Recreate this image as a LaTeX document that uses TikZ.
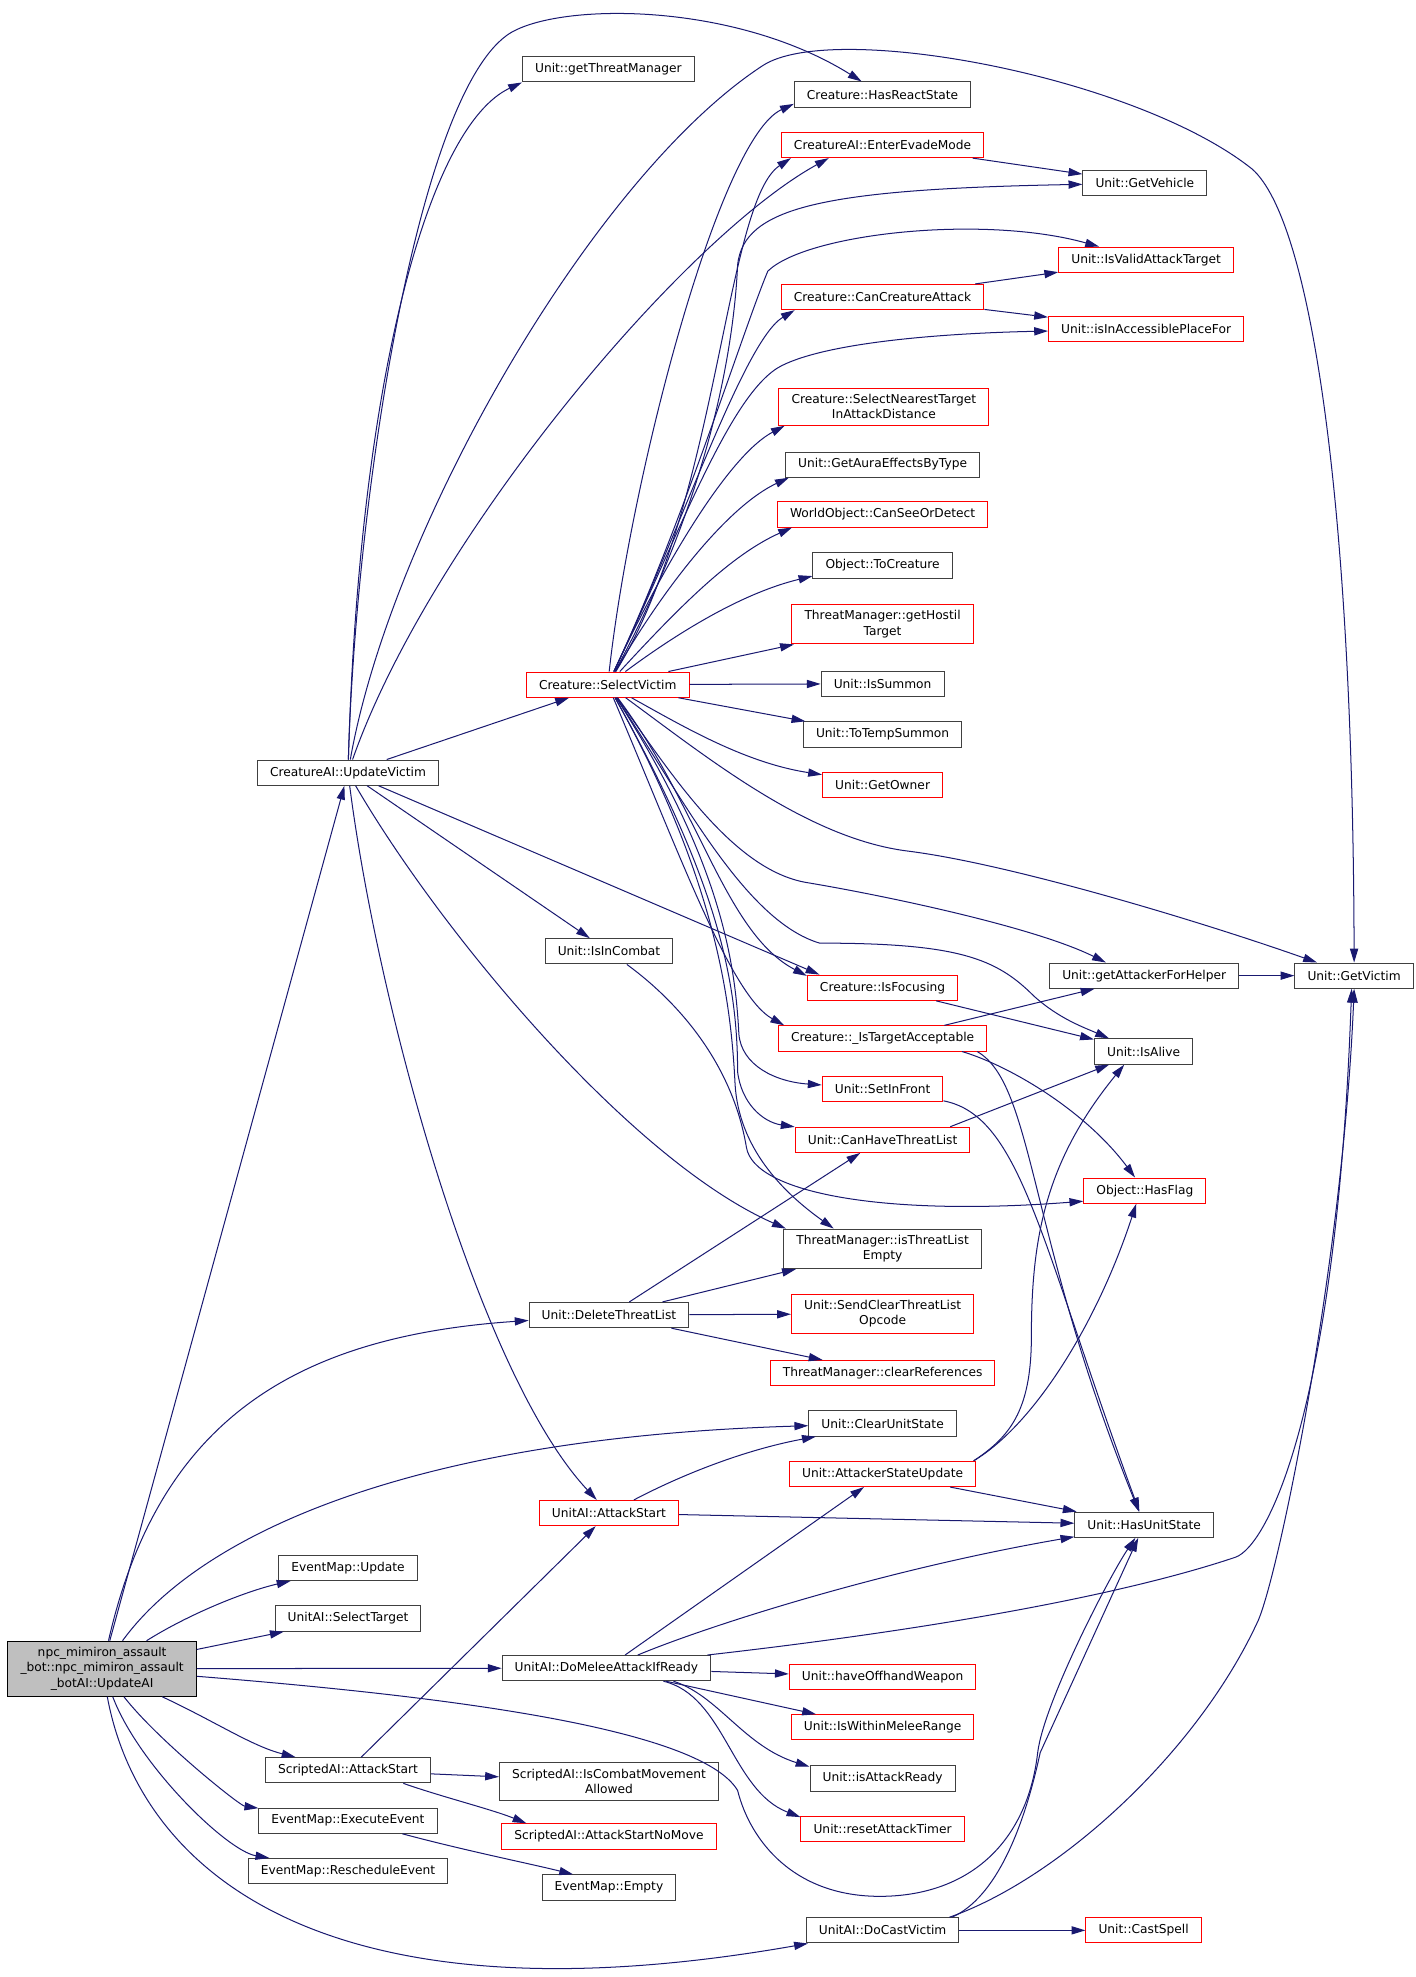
\documentclass[tikz,border=0pt]{standalone}
\usepackage{fontspec}
\newfontfamily\dxfont{DejaVu Sans}
\usetikzlibrary{arrows.meta}
\definecolor{edgeblue}{HTML}{191970}
\definecolor{boxline}{HTML}{404040}
\definecolor{rootfill}{HTML}{BFBFBF}

\begin{document}
\begin{tikzpicture}[x=1pt,y=-1pt,->,>={Triangle[length=11pt,width=6.5pt]},
  line width=0.8pt,every edge/.style={draw=edgeblue},call/.style={draw=edgeblue},
  fn node/.style={rectangle,draw=boxline,font=\dxfont\fontsize{9.7}{12}\selectfont,
    inner xsep=10pt,inner ysep=5pt,minimum height=20pt,align=center},
  red node/.style={fn node,draw=red},
  root node/.style={fn node,fill=rootfill,draw=black}]

  \useasboundingbox (0,0) rectangle (1123,1568);

  % first and second column
  \node[root node] (root) at (81,1323.5) {npc\_mimiron\_assault\\\_bot::npc\_mimiron\_assault\\\_botAI::UpdateAI};
  \node[fn node] (uv) at (276,612.8) {CreatureAI::UpdateVictim};
  \node[fn node] (emu) at (276,1243.5) {EventMap::Update};
  \node[fn node] (sel) at (276,1283.7) {UnitAI::SelectTarget};
  \node[fn node] (sas) at (276,1404) {ScriptedAI::AttackStart};
  \node[fn node] (ee) at (276,1444) {EventMap::ExecuteEvent};
  \node[fn node] (re) at (276,1484) {EventMap::RescheduleEvent};

  % third column
  \node[fn node] (gtm) at (482.5,55) {Unit::getThreatManager};
  \node[red node] (sv) at (482,543) {Creature::SelectVictim};
  \node[fn node] (ic) at (483,754.5) {Unit::IsInCombat};
  \node[fn node] (dtl) at (483,1043) {Unit::DeleteThreatList};
  \node[red node] (uas) at (483,1200) {UnitAI::AttackStart};
  \node[fn node] (dma) at (481,1323) {UnitAI::DoMeleeAttackIfReady};
  \node[fn node] (icma) at (483,1413) {ScriptedAI::IsCombatMovement\\Allowed};
  \node[red node] (asnm) at (483,1456.5) {ScriptedAI::AttackStartNoMove};
  \node[fn node] (emp) at (483,1497) {EventMap::Empty};

  % fourth column
  \node[fn node] (hrs) at (700,75) {Creature::HasReactState};
  \node[red node] (eem) at (700,115) {CreatureAI::EnterEvadeMode};
  \node[red node] (cca) at (700,235.6) {Creature::CanCreatureAttack};
  \node[red node] (snt) at (701,322.5) {Creature::SelectNearestTarget\\InAttackDistance};
  \node[fn node] (gae) at (700,368.5) {Unit::GetAuraEffectsByType};
  \node[red node] (csd) at (700,408) {WorldObject::CanSeeOrDetect};
  \node[fn node] (toc) at (700,448.5) {Object::ToCreature};
  \node[red node] (ght) at (700,495) {ThreatManager::getHostil\\Target};
  \node[fn node] (isu) at (700,542.3) {Unit::IsSummon};
  \node[fn node] (tts) at (700,582.5) {Unit::ToTempSummon};
  \node[red node] (gow) at (700,622.8) {Unit::GetOwner};
  \node[red node] (isf) at (700,783.4) {Creature::IsFocusing};
  \node[red node] (ita) at (700,823.6) {Creature::\_IsTargetAcceptable};
  \node[red node] (sif) at (700,863.8) {Unit::SetInFront};
  \node[red node] (chtl) at (700,904) {Unit::CanHaveThreatList};
  \node[fn node] (tle) at (700,990.5) {ThreatManager::isThreatList\\Empty};
  \node[red node] (scto) at (700,1042) {Unit::SendClearThreatList\\Opcode};
  \node[red node] (cref) at (700,1089) {ThreatManager::clearReferences};
  \node[fn node] (cus) at (700,1129) {Unit::ClearUnitState};
  \node[red node] (asu) at (700,1169) {Unit::AttackerStateUpdate};
  \node[red node] (how) at (700,1330) {Unit::haveOffhandWeapon};
  \node[red node] (iwm) at (700,1370) {Unit::IsWithinMeleeRange};
  \node[fn node] (iar) at (700,1410.6) {Unit::isAttackReady};
  \node[red node] (rat) at (700,1450.6) {Unit::resetAttackTimer};
  \node[fn node] (dcv) at (700,1531) {UnitAI::DoCastVictim};

  % fifth and sixth column
  \node[fn node] (gveh) at (908,145.3) {Unit::GetVehicle};
  \node[red node] (iva) at (909,206) {Unit::IsValidAttackTarget};
  \node[red node] (iap) at (909,261) {Unit::isInAccessiblePlaceFor};
  \node[fn node] (gafh) at (907.5,773.8) {Unit::getAttackerForHelper};
  \node[fn node] (ia) at (907,834) {Unit::IsAlive};
  \node[red node] (hf) at (908,944.3) {Object::HasFlag};
  \node[fn node] (hus) at (907.5,1209.3) {Unit::HasUnitState};
  \node[red node] (cs) at (907,1531) {Unit::CastSpell};
  \node[fn node] (gv) at (1074,773.8) {Unit::GetVictim};

  % calls of UpdateAI
  \path (root) edge (uv)
        (root) edge (sel)
        (root) edge (dma);
  \draw[call] (root) .. controls (125,1130) and (230,1060) .. (dtl);
  \draw[call] (root) .. controls (160,1215) and (330,1140) .. (cus);
  \draw[call] (root) .. controls (150,1280) and (195,1262) .. (emu);
  \draw[call] (root) .. controls (350,1345) and (555,1370) .. (585,1420)
    .. controls (595,1460) and (630,1505) .. (700,1504)
    .. controls (770,1503) and (815,1460) .. (823,1390)
    .. controls (828,1350) and (880,1250) .. (hus);
  \draw[call] (root) .. controls (170,1365) and (200,1385) .. (sas);
  \draw[call] (root) .. controls (125,1380) and (190,1432) .. (ee);
  \draw[call] (root) .. controls (110,1400) and (180,1468) .. (re);
  \draw[call] (root) .. controls (110,1480) and (250,1610) .. (dcv);

  % calls of UpdateVictim
  \path (uv) edge (sv)
        (uv) edge (ic)
        (uv) edge ([xshift=10pt]isf.north west);
  \draw[call] (uv) .. controls (285,300) and (340,100) .. (gtm.south west);
  \draw[call] (uv) .. controls (282,400) and (330,80) .. (402,28)
    .. controls (438,2) and (580,0) .. (hrs);
  \draw[call] (uv) .. controls (310,420) and (470,140) .. (605,52)
    .. controls (660,16) and (900,60) .. (993,134)
    .. controls (1040,175) and (1073,400) .. (gv);
  \draw[call] (uv) .. controls (340,430) and (540,190) .. ([xshift=38pt]eem.south west);
  \draw[call] (uv) .. controls (350,740) and (500,920) .. ([xshift=2pt]tle.north west);
  \draw[call] (uv) .. controls (300,800) and (380,1090) .. (uas);

  % calls of SelectVictim
  \path (sv) edge (isu)
        (sv) edge ([xshift=2pt]ght.south west)
        (sv) edge ([xshift=2pt]tts.north west);
  \draw[call] (sv) .. controls (500,380) and (570,110) .. ([yshift=3pt]hrs.south west);
  \draw[call] (sv) .. controls (570,400) and (575,160) .. ([xshift=8pt]eem.south west);
  \draw[call] (sv) .. controls (560,400) and (582,280) .. (585,210)
    .. controls (590,165) and (650,150) .. (gveh);
  \draw[call] (sv) .. controls (540,420) and (590,260) .. (609,215)
    .. controls (640,185) and (780,170) .. (iva);
  \draw[call] (sv) .. controls (540,420) and (590,270) .. ([xshift=11pt]cca.south west);
  \draw[call] (sv) .. controls (540,420) and (580,310) .. (620,290)
    .. controls (660,270) and (760,264) .. (iap);
  \draw[call] (sv) .. controls (530,440) and (580,360) .. ([xshift=5pt]snt.south west);
  \draw[call] (sv) .. controls (530,460) and (580,400) .. ([xshift=3pt]gae.south west);
  \draw[call] (sv) .. controls (540,480) and (580,440) .. ([xshift=12pt]csd.south west);
  \draw[call] (sv) .. controls (540,500) and (590,470) .. ([yshift=2pt]toc.south west);
  \draw[call] (sv) .. controls (540,575) and (590,605) .. ([yshift=-2pt]gow.north west);
  \draw[call] (sv) .. controls (560,600) and (640,665) .. (720,675)
    .. controls (800,685) and (950,730) .. (gv);
  \draw[call] (sv) .. controls (530,610) and (580,690) .. (640,700)
    .. controls (700,710) and (820,735) .. ([xshift=45pt]gafh.north west);
  \draw[call] (sv) .. controls (540,630) and (590,730) .. (650,748)
    .. controls (760,748) and (790,760) .. (820,790)
    .. controls (840,808) and (860,815) .. ([xshift=12pt]ia.north west);
  \draw[call] (sv) .. controls (555,640) and (575,740) .. ([yshift=-1pt]isf.north west);
  \draw[call] (sv) .. controls (540,680) and (580,790) .. ([xshift=5pt]ita.north west);
  \draw[call] (sv) .. controls (570,680) and (583,760) .. (586,820)
    .. controls (588,845) and (615,858) .. (sif);
  \draw[call] (sv) .. controls (570,700) and (585,780) .. (585,850)
    .. controls (588,875) and (605,890) .. (chtl);
  \draw[call] (sv) .. controls (570,700) and (580,800) .. (583,860)
    .. controls (586,910) and (620,945) .. ([xshift=40pt]tle.north west);

  % calls further right
  \path (eem) edge (gveh)
        (cca) edge (iva)
        (cca) edge (iap)
        (gafh) edge (gv)
        (isf) edge (ia)
        ([xshift=-34pt]ita.north east) edge ([xshift=36pt]gafh.south west)
        ([xshift=-16pt]chtl.north east) edge ([xshift=12pt]ia.south west);
  \draw[call] (ic) .. controls (545,800) and (582,850) .. (592,910)
    .. controls (598,946) and (700,965) .. ([yshift=2pt]hf.south west);
  \draw[call] ([xshift=-20pt]ita.south east) .. controls (800,845) and (860,880) .. (hf);
  \draw[call] ([xshift=-8pt]ita.south east) .. controls (820,860) and (815,980) .. (hus);
  \draw[call] (sif) .. controls (810,885) and (825,985) .. (hus);

  % DeleteThreatList, AttackStart, AttackerStateUpdate
  \path (dtl) edge ([xshift=52pt]chtl.south west)
        (dtl) edge ([xshift=10pt]tle.south west)
        (dtl) edge (scto)
        (dtl) edge ([xshift=42pt]cref.north west)
        (uas) edge (hus)
        (asu) edge (hus);
  \draw[call] (uas) .. controls (540,1170) and (590,1150) .. ([xshift=6pt]cus.south west);
  \draw[call] ([xshift=-2pt]asu.north east) .. controls (800,1140) and (818,1120) .. (818,1060)
    .. controls (818,980) and (830,920) .. ([xshift=24pt]ia.south west);
  \draw[call] ([xshift=-2pt]asu.north east) .. controls (820,1130) and (870,1050) .. ([xshift=42pt]hf.south west);

  % DoMeleeAttackIfReady
  \path (dma) edge (asu)
        (dma) edge (how)
        (dma) edge ([xshift=20pt]iwm.north west);
  \draw[call] (dma) .. controls (560,1290) and (700,1245) .. (hus);
  \draw[call] ([xshift=-3pt]dma.north east) .. controls (760,1290) and (900,1262) .. (980,1235)
    .. controls (1005,1226) and (1060,1120) .. ([xshift=-2pt]gv.south);
  \draw[call] ([xshift=-30pt]dma.south east) .. controls (570,1345) and (590,1385) .. ([yshift=-1pt]iar.north west);
  \draw[call] ([xshift=-38pt]dma.south east) .. controls (575,1345) and (580,1420) .. ([yshift=-1pt]rat.north west);

  % ScriptedAI, EventMap, DoCastVictim
  \path (sas) edge (uas)
        (sas) edge (icma)
        (dcv) edge (cs);
  \draw[call] ([xshift=-22pt]sas.south east) .. controls (350,1425) and (390,1435) .. ([xshift=20pt]asnm.north west);
  \draw[call] ([xshift=-28pt]ee.south east) .. controls (370,1468) and (420,1478) .. ([xshift=25pt]emp.north west);
  \draw[call] ([xshift=-6pt]dcv.north east) .. controls (790,1505) and (812,1450) .. (825,1390) -- (hus);
  \draw[call] ([xshift=-8pt]dcv.north east) .. controls (840,1490) and (950,1390) .. (998,1285)
    .. controls (1015,1245) and (1065,1000) .. (gv.south);
\end{tikzpicture}
\end{document}
